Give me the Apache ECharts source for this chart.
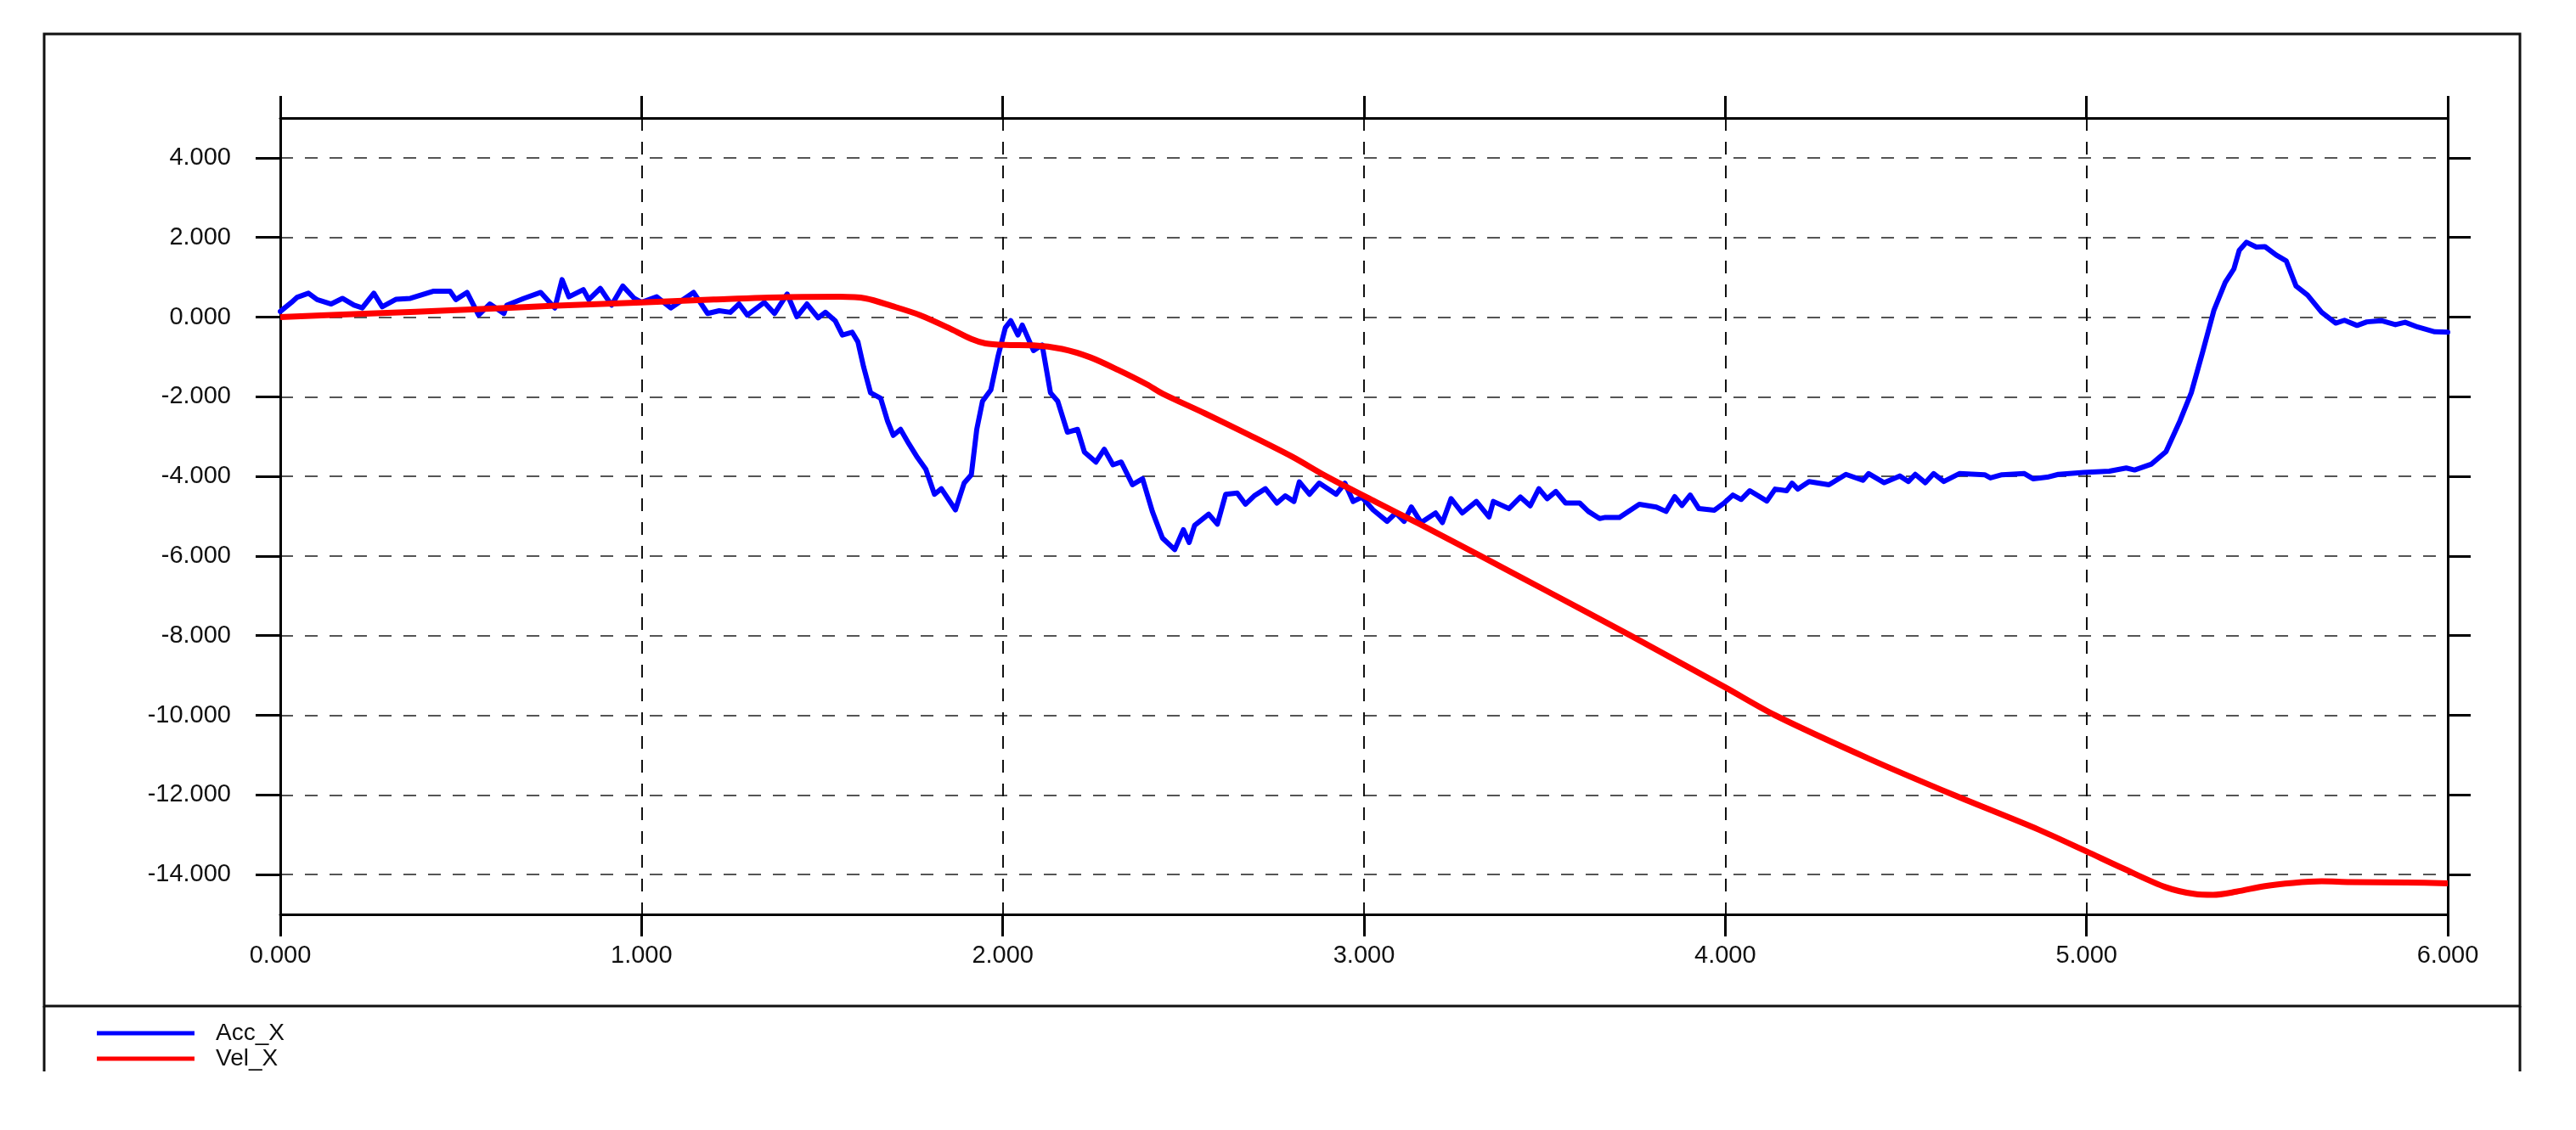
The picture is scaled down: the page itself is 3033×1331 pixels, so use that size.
<!DOCTYPE html>
<html>
<head>
<meta charset="utf-8">
<title>Acc_X / Vel_X</title>
<script src="https://cdn.jsdelivr.net/npm/echarts@6/dist/echarts.min.js"></script>
<style>
  html, body { margin: 0; padding: 0; background: #fff; }
  #chart { width: 3033px; height: 1331px; }
</style>
</head>
<body>
<div id="chart"></div>
<script>
// time axis / value axis ticks
const xTicks = [0, 1, 2, 3, 4, 5, 6]
const yTicks = [-14, -12, -10, -8, -6, -4, -2, 0, 2, 4]

// Acc_X samples: [time, value]
const accX = [
  [0, 0.14], [0.031, 0.37], [0.047, 0.5], [0.078, 0.6], [0.102, 0.44], [0.141, 0.33],
  [0.172, 0.47], [0.204, 0.30], [0.227, 0.23], [0.259, 0.6], [0.282, 0.26], [0.321, 0.45],
  [0.360, 0.47], [0.423, 0.65], [0.470, 0.65], [0.486, 0.44], [0.517, 0.62], [0.549, 0.05],
  [0.580, 0.33], [0.619, 0.09], [0.627, 0.30], [0.674, 0.47], [0.721, 0.62], [0.760, 0.23],
  [0.780, 0.94], [0.799, 0.51], [0.839, 0.69], [0.854, 0.44], [0.886, 0.72], [0.917, 0.30],
  [0.948, 0.78], [0.980, 0.47], [1.0, 0.37], [1.042, 0.51], [1.081, 0.23], [1.144, 0.62],
  [1.183, 0.09], [1.215, 0.16], [1.246, 0.12], [1.270, 0.33], [1.293, 0.05], [1.340, 0.37],
  [1.368, 0.09], [1.403, 0.58], [1.430, 0.01], [1.458, 0.33], [1.489, -0.02], [1.509, 0.12],
  [1.536, -0.09], [1.556, -0.45], [1.583, -0.38], [1.599, -0.62], [1.615, -1.26], [1.634, -1.90],
  [1.662, -2.04], [1.681, -2.61], [1.697, -2.97], [1.717, -2.82], [1.740, -3.18], [1.764, -3.53],
  [1.787, -3.82], [1.811, -4.45], [1.830, -4.31], [1.869, -4.84], [1.893, -4.17], [1.913, -3.96],
  [1.928, -2.82], [1.944, -2.11], [1.967, -1.83], [1.987, -0.98], [2.007, -0.27], [2.022, -0.09],
  [2.042, -0.45], [2.054, -0.20], [2.085, -0.84], [2.109, -0.70], [2.132, -1.90], [2.152, -2.11],
  [2.179, -2.89], [2.207, -2.82], [2.226, -3.39], [2.258, -3.64], [2.281, -3.32], [2.305, -3.71],
  [2.328, -3.64], [2.359, -4.21], [2.387, -4.06], [2.414, -4.88], [2.442, -5.55], [2.476, -5.84],
  [2.500, -5.34], [2.516, -5.66], [2.531, -5.23], [2.570, -4.95], [2.594, -5.20], [2.617, -4.45],
  [2.649, -4.42], [2.672, -4.70], [2.696, -4.49], [2.727, -4.31], [2.759, -4.67], [2.782, -4.49],
  [2.806, -4.63], [2.821, -4.14], [2.849, -4.45], [2.876, -4.17], [2.923, -4.45], [2.947, -4.17],
  [2.970, -4.63], [2.994, -4.52], [3.025, -4.84], [3.064, -5.13], [3.088, -4.92], [3.111, -5.13],
  [3.131, -4.77], [3.158, -5.16], [3.198, -4.92], [3.217, -5.16], [3.241, -4.56], [3.272, -4.92],
  [3.311, -4.63], [3.346, -5.02], [3.358, -4.63], [3.401, -4.81], [3.433, -4.52], [3.460, -4.74],
  [3.484, -4.31], [3.507, -4.56], [3.531, -4.38], [3.558, -4.67], [3.597, -4.67], [3.621, -4.88],
  [3.652, -5.06], [3.668, -5.03], [3.707, -5.03], [3.762, -4.70], [3.809, -4.77], [3.836, -4.88],
  [3.860, -4.51], [3.880, -4.73], [3.903, -4.47], [3.927, -4.81], [3.970, -4.85], [3.998, -4.66],
  [4.021, -4.47], [4.044, -4.58], [4.068, -4.36], [4.115, -4.62], [4.138, -4.32], [4.170, -4.36],
  [4.185, -4.17], [4.201, -4.32], [4.232, -4.13], [4.287, -4.21], [4.334, -3.95], [4.381, -4.10],
  [4.397, -3.93], [4.440, -4.16], [4.483, -3.99], [4.507, -4.13], [4.526, -3.95], [4.554, -4.16],
  [4.577, -3.93], [4.605, -4.13], [4.648, -3.93], [4.718, -3.96], [4.734, -4.04], [4.766, -3.96],
  [4.828, -3.93], [4.852, -4.06], [4.891, -4.02], [4.922, -3.95], [4.992, -3.90], [5.063, -3.87],
  [5.110, -3.79], [5.133, -3.84], [5.180, -3.69], [5.220, -3.38], [5.259, -2.60], [5.290, -1.90],
  [5.322, -0.86], [5.353, 0.18], [5.384, 0.87], [5.408, 1.21], [5.423, 1.68], [5.443, 1.88],
  [5.470, 1.76], [5.494, 1.77], [5.525, 1.56], [5.553, 1.41], [5.580, 0.78], [5.612, 0.55],
  [5.651, 0.12], [5.690, -0.15], [5.714, -0.08], [5.749, -0.21], [5.776, -0.12], [5.816, -0.09],
  [5.855, -0.19], [5.882, -0.13], [5.917, -0.25], [5.964, -0.37], [6.0, -0.38]
]

// Vel_X samples: [time, value]
const velX = [
  [0, 0.0], [0.25, 0.09], [0.5, 0.18], [0.75, 0.28], [1.0, 0.37], [1.2, 0.44], [1.4, 0.50],
  [1.55, 0.51], [1.62, 0.47], [1.693, 0.28], [1.771, 0.05], [1.850, -0.27], [1.913, -0.55],
  [1.952, -0.66], [2.007, -0.70], [2.085, -0.71], [2.164, -0.80], [2.242, -1.01], [2.320, -1.33],
  [2.399, -1.69], [2.442, -1.92], [2.56, -2.42], [2.68, -2.95], [2.80, -3.50], [2.896, -4.0],
  [3.03, -4.63], [3.15, -5.18], [3.323, -6.0], [3.5, -6.85], [3.738, -8.0], [4.0, -9.3],
  [4.138, -10.0], [4.4, -11.1], [4.632, -12.0], [4.867, -12.87], [5.0, -13.42], [5.102, -13.85],
  [5.22, -14.32], [5.30, -14.49], [5.35, -14.51], [5.415, -14.43], [5.494, -14.29], [5.572, -14.21],
  [5.651, -14.17], [5.729, -14.19], [5.886, -14.20], [6.0, -14.22]
]

const font = "'Liberation Sans', Arial, sans-serif"
const fmt = v => Number(v).toFixed(3)

const chart = echarts.init(document.getElementById('chart'))

const tickStyle = { color: '#000', width: 3 }

chart.setOption({
  animation: false,
  backgroundColor: '#fff',
  grid: { left: 330, right: 151, top: 139, bottom: 254 },
  legend: {
    orient: 'vertical',
    left: 109,
    top: 1197,
    icon: 'rect',
    itemWidth: 115,
    itemHeight: 5,
    itemGap: 0,
    selectedMode: false,
    textStyle: { fontFamily: font, fontSize: 28, color: '#111', lineHeight: 30, padding: [0, 0, 0, 20] },
    data: ['Acc_X', 'Vel_X']
  },
  xAxis: [
    {
      type: 'value', position: 'bottom', min: 0, max: 6, interval: 1,
      axisLine: { onZero: false, lineStyle: { color: '#000', width: 3 } },
      axisTick: { inside: false, length: 26, lineStyle: tickStyle },
      axisLabel: { formatter: fmt, fontFamily: font, fontSize: 29, color: '#111', margin: 34 },
      splitLine: { show: true, lineStyle: { type: [15, 13], color: '#111', width: 2 } }
    },
    {
      type: 'value', position: 'top', min: 0, max: 6, interval: 1,
      axisLine: { show: true, onZero: false, lineStyle: { color: '#000', width: 3 } },
      axisTick: { show: true, inside: false, length: 26, lineStyle: tickStyle },
      axisLabel: { show: false },
      splitLine: { show: false }
    }
  ],
  yAxis: [
    {
      type: 'value', position: 'left', min: -15, max: 5,
      axisLine: { show: true, onZero: false, lineStyle: { color: '#000', width: 3 } },
      axisTick: { show: true, inside: false, length: 29, customValues: yTicks, lineStyle: tickStyle },
      axisLabel: {
        customValues: yTicks, formatter: fmt, fontFamily: font, fontSize: 29,
        color: '#111', margin: 58, padding: [12, 0, 0, 0]
      },
      splitLine: { show: true, lineStyle: { type: [15, 14], color: '#555', width: 2 } }
    },
    {
      type: 'value', position: 'right', min: -15, max: 5,
      axisLine: { show: true, onZero: false, lineStyle: { color: '#000', width: 3 } },
      axisTick: { show: true, inside: false, length: 27, customValues: yTicks, lineStyle: tickStyle },
      axisLabel: { show: false },
      splitLine: { show: false }
    }
  ],
  series: [
    {
      name: 'Acc_X',
      type: 'line',
      xAxisIndex: 0,
      yAxisIndex: 0,
      data: accX,
      showSymbol: false,
      symbol: 'none',
      color: '#0000ff',
      lineStyle: { color: '#0000ff', width: 6, join: 'round', cap: 'round' },
      z: 3
    },
    {
      name: 'Vel_X',
      type: 'line',
      xAxisIndex: 0,
      yAxisIndex: 0,
      data: velX,
      smooth: 0.3,
      showSymbol: false,
      symbol: 'none',
      color: '#ff0000',
      lineStyle: { color: '#ff0000', width: 7, join: 'round' },
      z: 4
    }
  ],
  graphic: [
    {
      type: 'rect',
      shape: { x: 52, y: 40, width: 2915, height: 1145 },
      style: { fill: null, stroke: '#111', lineWidth: 3 },
      silent: true
    },
    {
      type: 'line',
      shape: { x1: 52, y1: 1185, x2: 52, y2: 1262 },
      style: { stroke: '#111', lineWidth: 3 },
      silent: true
    },
    {
      type: 'line',
      shape: { x1: 2967, y1: 1185, x2: 2967, y2: 1262 },
      style: { stroke: '#111', lineWidth: 3 },
      silent: true
    }
  ]
})

window.addEventListener('resize', () => chart.resize())
</script>
</body>
</html>
